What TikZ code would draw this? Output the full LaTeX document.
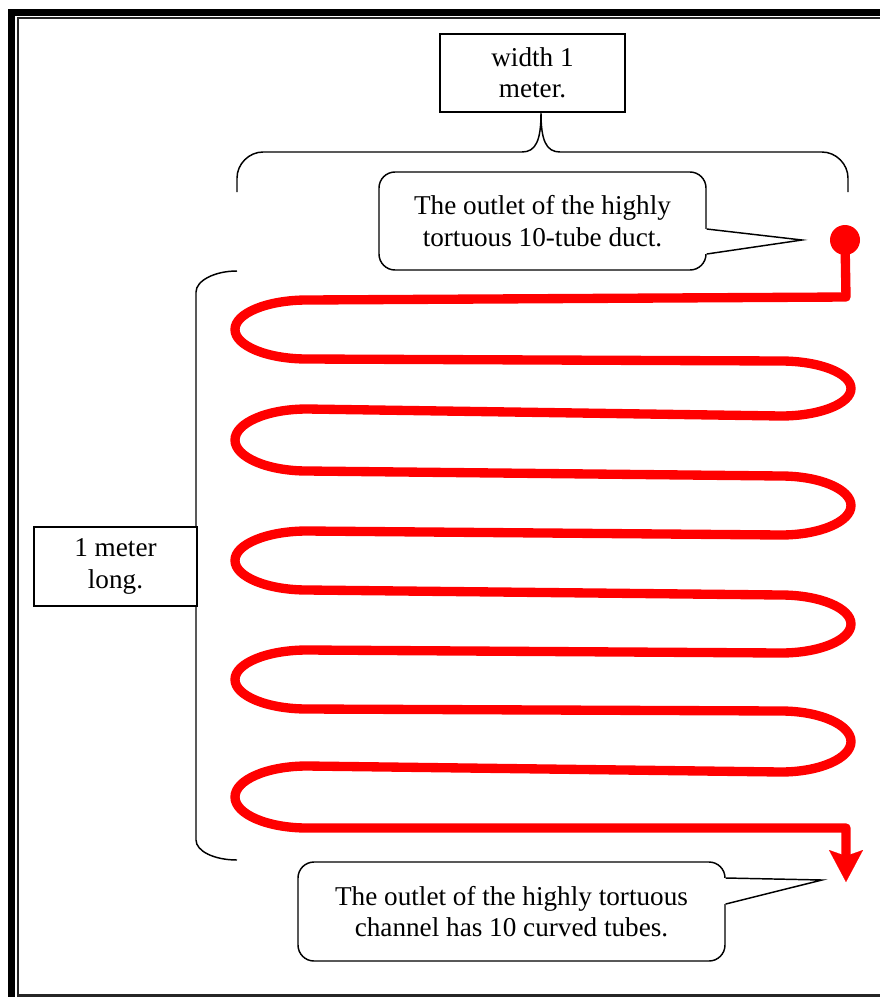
\documentclass[tikz,border=0pt]{standalone}
\usepackage{fontspec}
\setmainfont{Liberation Serif}
\usetikzlibrary{arrows.meta,calc}
\begin{document}
\begin{tikzpicture}[x=0.75pt,y=-0.75pt,
  txt/.style={font=\fontsize{20.4}{23.6}\selectfont, align=center},
  labelbox/.style={txt, draw, line width=1.1pt, fill=white, inner sep=0pt},
  callout/.style={txt, draw, line width=1.1pt, fill=white, rounded corners=12pt, inner sep=0pt},
  brace/.style={draw, line width=1.1pt},
  pointer/.style={draw, line width=1.1pt, line join=miter},
  tube/.style={draw=red, line width=7pt, line join=round, line cap=butt},
]
\useasboundingbox (0,0) rectangle (880,997);
\clip (0,0) rectangle (880,997);
% frame
\draw[line width=5.25pt] (11.5,12) rectangle (900,1010);
\draw[line width=1.6pt, black!85] (17.8,17.8) rectangle (900,995.5);

% top brace and width box
\coordinate (wtip) at (541,113);
\draw[brace] (237,192) -- (237,178) .. controls (237,164) and (249,152) .. (263,152)
  -- (522,152) .. controls (536,152) and (541,140) .. (wtip)
  .. controls (541,140) and (546,152) .. (560,152)
  -- (822,152) .. controls (836,152) and (848,164) .. (848,178) -- (848,192);
\node[labelbox, minimum width=138.75pt, minimum height=58.5pt] (widthbox) at (532.5,73) {width 1\\meter.};

% left brace and length box
\draw[brace] (237,271) .. controls (214,271) and (196,281) .. (196,292)
  -- (196,840) .. controls (196,851) and (214,860) .. (237,860);
\node[labelbox, minimum width=122.25pt, minimum height=59.25pt] (lenbox) at (115.5,566.5) {1 meter\\long.};

% callouts
\node[callout, minimum width=245.25pt, minimum height=73.5pt] (outA) at (542.5,221) {The outlet of the highly\\tortuous 10-tube duct.};
\coordinate (tipA) at (802,240);
\fill[white] ($(outA.east)+(-1.6,8)$) -- (tipA) -- ($(outA.east)+(-1.6,33)$) -- cycle;
\draw[pointer] ($(outA.east)+(0,8)$) -- (tipA) -- ($(outA.east)+(0,33)$);

\node[callout, minimum width=320.25pt, minimum height=74.25pt] (outB) at (511.5,911.5) {The outlet of the highly tortuous\\channel has 10 curved tubes.};
\coordinate (tipB) at (822,880);
\fill[white] ($(outB.east)+(-1.6,-33.5)$) -- (tipB) -- ($(outB.east)+(-1.6,-7.5)$) -- cycle;
\draw[pointer] ($(outB.east)+(0,-33.5)$) -- (tipB) -- ($(outB.east)+(0,-7.5)$);

% serpentine channel
\node[circle, fill=red, inner sep=0pt, minimum size=22.5pt] (inlet) at (845,240) {};
\coordinate (outlet) at (846,882);
\draw[tube, -{Stealth[length=24pt, width=25.5pt, inset=4.5pt, line width=0.1pt]}]
  (inlet.center) -- (846,297) -- (307,300)
  arc[start angle=270, end angle=90, x radius=72, y radius=29.5] -- (781,361)
  arc[start angle=-90, end angle=90, x radius=70, y radius=27.5] -- (307,409)
  arc[start angle=270, end angle=90, x radius=72, y radius=31] -- (781,476)
  arc[start angle=-90, end angle=90, x radius=70, y radius=29.5] -- (307,531)
  arc[start angle=270, end angle=90, x radius=72, y radius=29.5] -- (781,595)
  arc[start angle=-90, end angle=90, x radius=70, y radius=29] -- (307,650)
  arc[start angle=270, end angle=90, x radius=72, y radius=29.5] -- (781,711)
  arc[start angle=-90, end angle=90, x radius=70, y radius=30.5] -- (307,766)
  arc[start angle=270, end angle=90, x radius=72, y radius=31] -- (846,828)
  -- (outlet);
\end{tikzpicture}
\end{document}
